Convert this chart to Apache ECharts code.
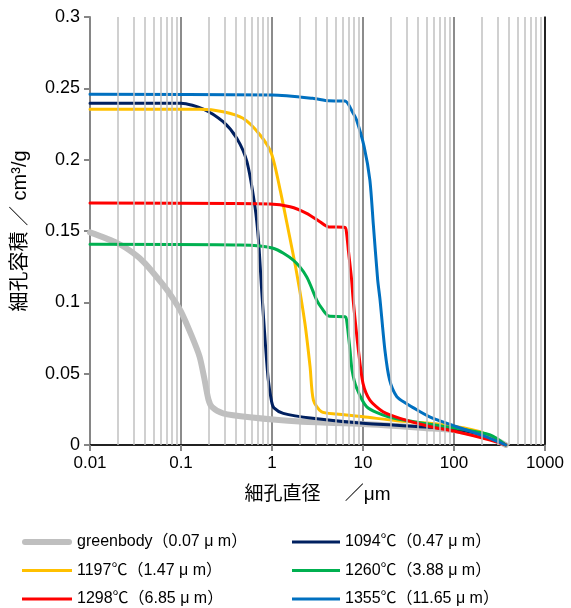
<!DOCTYPE html>
<html>
<head>
<meta charset="utf-8">
<script src="https://cdn.jsdelivr.net/npm/echarts@6/dist/echarts.min.js"></script>
<style>
  html, body { margin: 0; padding: 0; background: #fff; }
  #chart { width: 571px; height: 608px; }
</style>
</head>
<body>
<div id="chart"></div>
<script>
// 細孔径分布 (diameter μm, cumulative pore volume cm3/g)
var greenbody = [[0.01,0.149],[0.02,0.1415],[0.03,0.1345],[0.04,0.1275],[0.064,0.112],[0.08,0.1035],[0.1,0.0935],[0.13,0.077],[0.16,0.062],[0.18,0.047],[0.2,0.032],[0.22,0.0265],[0.29,0.0222],[0.57,0.0194],[2,0.0164],[10,0.0147],[50,0.0118],[107,0.0102],[250,0.0054],[370,0]];
var t1094 = [[0.01,0.2396],[0.1,0.2396],[0.176,0.2355],[0.29,0.2266],[0.41,0.215],[0.53,0.1986],[0.65,0.167],[0.71,0.1437],[0.77,0.1086],[0.84,0.0736],[0.91,0.0456],[0.99,0.0304],[1.05,0.026],[1.33,0.0222],[2.8,0.0187],[10,0.0152],[54,0.0125],[107,0.011],[250,0.0055],[370,0]];
var t1197 = [[0.01,0.2353],[0.16,0.2353],[0.29,0.2336],[0.48,0.229],[0.74,0.2173],[0.99,0.204],[1.23,0.1787],[1.51,0.1507],[1.87,0.1204],[2.3,0.0853],[2.62,0.0549],[2.85,0.0315],[3.5,0.0233],[5.1,0.0217],[10,0.0198],[23.5,0.017],[54,0.0152],[107,0.0128],[193,0.0093],[295,0.0035],[370,0]];
var t1260 = [[0.01,0.1407],[0.45,0.1402],[1.03,0.1379],[1.7,0.1297],[2.4,0.118],[3.1,0.1016],[3.6,0.095],[4.2,0.0904],[6.35,0.0899],[6.6,0.0876],[7.2,0.0666],[7.6,0.052],[8.5,0.04],[11,0.0268],[19,0.0198],[54,0.0145],[107,0.0117],[250,0.007],[370,0]];
var t1298 = [[0.01,0.1696],[0.95,0.169],[1.58,0.167],[2.4,0.1624],[3.36,0.1565],[4.1,0.153],[6.35,0.1525],[6.6,0.1484],[6.9,0.1367],[7.5,0.1157],[7.8,0.1016],[8.9,0.0666],[10,0.0432],[11.9,0.0315],[16.6,0.0233],[25.5,0.0187],[54,0.013],[107,0.0093],[250,0.0035],[370,0]];
var t1355 = [[0.01,0.2458],[1,0.2453],[2.8,0.243],[4.2,0.2413],[6.35,0.2411],[7.8,0.2325],[8.5,0.2278],[10.3,0.209],[11.9,0.1857],[13,0.1542],[14.5,0.1157],[15.4,0.1016],[17.4,0.0666],[19.6,0.0456],[23.5,0.0339],[29.6,0.0292],[35.5,0.0262],[54,0.0198],[107,0.0128],[249,0.0047],[370,0]];

var names = ['greenbody（0.07 μ m）', '1094℃（0.47 μ m）', '1197℃（1.47 μ m）', '1260℃（3.88 μ m）', '1298℃（6.85 μ m）', '1355℃（11.65 μ m）'];
var colors = ['#bfbfbf', '#002060', '#ffc000', '#00b050', '#ff0000', '#0070c0'];
var widths = [6, 3, 3, 3, 3, 3];
var datasets = [greenbody, t1094, t1197, t1260, t1298, t1355];

// 縦の補助目盛線
var minorGrid = [0.02,0.03,0.04,0.05,0.06,0.07,0.08,0.09, 0.2,0.3,0.4,0.5,0.6,0.7,0.8,0.9, 2,3,4,5,6,7,8,9, 20,30,40,50,60,70,80,90, 200,300,400,500,600,700,800,900];

var font = "'Liberation Sans', Arial, 'Noto Sans CJK JP', sans-serif";
var thickIcon = 'path://M3,0h44a3,3 0 0 1 0,6h-44a3,3 0 0 1 0,-6z';
var thinIcon = 'path://M0,0h50v3h-50z';

var series = [{
  type: 'line',
  data: [],
  z: 1,
  silent: true,
  markLine: {
    silent: true,
    symbol: ['none', 'none'],
    label: { show: false },
    lineStyle: { color: '#c0c0c0', width: 1.5, type: 'solid' },
    emphasis: { disabled: true },
    data: minorGrid.map(function (v) { return { xAxis: v }; })
  }
}];
for (var i = 0; i < datasets.length; i++) {
  series.push({
    name: names[i],
    type: 'line',
    data: datasets[i],
    symbol: 'none',
    smooth: 0.25,
    z: i === 0 ? 2 : 3,
    lineStyle: { color: colors[i], width: widths[i], cap: 'round' },
    itemStyle: { color: colors[i] }
  });
}

function legendItems(idx) {
  return idx.map(function (k) {
    return { name: names[k], icon: k === 0 ? thickIcon : thinIcon };
  });
}
var legendText = { fontSize: 16, color: '#000', fontFamily: font, lineHeight: 18 };

var myChart = echarts.init(document.getElementById('chart'));
myChart.setOption({
  animation: false,
  textStyle: { fontFamily: font },
  grid: { left: 90, right: 26, top: 17, bottom: 163 },
  legend: [
    {
      data: legendItems([0, 2, 4]),
      orient: 'vertical', left: 22, top: 533, padding: 0,
      itemWidth: 50, itemHeight: 14, itemGap: 10.5,
      textStyle: legendText
    },
    {
      data: legendItems([1, 3, 5]),
      orient: 'vertical', left: 292, top: 533, padding: 0,
      itemWidth: 48, itemHeight: 14, itemGap: 10.5,
      textStyle: legendText
    }
  ],
  xAxis: [
    {
      type: 'log', logBase: 10, min: 0.01, max: 1000,
      name: '細孔直径　 ／μm', nameLocation: 'middle', nameGap: 40,
      nameTextStyle: { fontSize: 19, color: '#000', fontFamily: font },
      axisLine: { lineStyle: { color: '#868686', width: 2 } },
      axisTick: { show: true, length: 6, lineStyle: { color: '#868686', width: 2 } },
      axisLabel: {
        fontSize: 17, color: '#000', margin: 10,
        formatter: function (v) { return String(+v.toPrecision(6)); }
      },
      splitLine: { show: true, lineStyle: { color: '#8c8c8c', width: 2 } }
    },
    {
      type: 'log', logBase: 10, min: 0.01, max: 1000, position: 'top',
      axisLine: { lineStyle: { color: '#000', width: 1.5 } },
      axisTick: { show: false }, axisLabel: { show: false }, splitLine: { show: false }
    }
  ],
  yAxis: [
    {
      type: 'value', min: 0, max: 0.3, interval: 0.05,
      name: '細孔容積 ／ cm³/g', nameLocation: 'middle', nameGap: 60,
      nameTextStyle: { fontSize: 20, color: '#000', fontFamily: font },
      axisLine: { show: true, lineStyle: { color: '#868686', width: 2 } },
      axisTick: { show: true, length: 6, lineStyle: { color: '#868686', width: 2 } },
      axisLabel: { fontSize: 18, color: '#000', margin: 10 },
      splitLine: { show: false }
    },
    {
      type: 'value', min: 0, max: 0.3, position: 'right',
      axisLine: { show: true, lineStyle: { color: '#000', width: 1.5 } },
      axisTick: { show: false }, axisLabel: { show: false }, splitLine: { show: false }
    }
  ],
  series: series
});
</script>
</body>
</html>
